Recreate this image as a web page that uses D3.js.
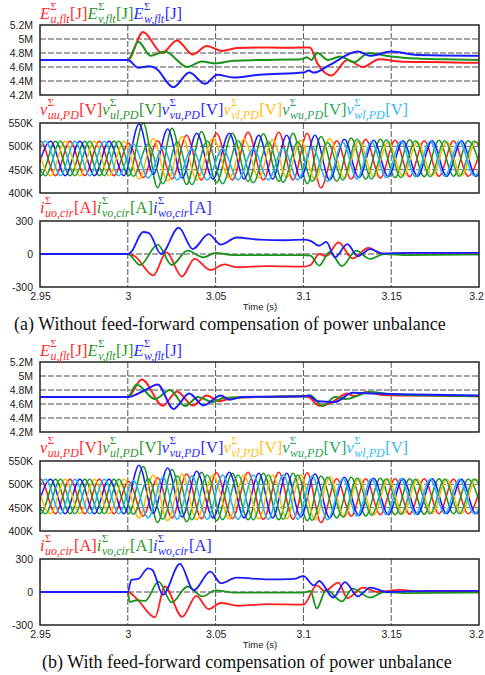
<!DOCTYPE html>
<html>
<head>
<meta charset="utf-8">
<script src="https://cdn.jsdelivr.net/npm/d3@7"></script>
<style>
    body { margin: 0; background: #fff; }
    svg { display: block; }
    .axis text { font-family: "Liberation Sans", Arial, sans-serif; font-size: 10.5px; fill: #222; }
    .caption { font-family: "Liberation Serif", "Times New Roman", serif; font-size: 18px; fill: #111; }
    .xlabel { font-family: "Liberation Sans", Arial, sans-serif; font-size: 9.5px; fill: #222; }
</style>
</head>
<body>
<div id="chart"></div>
<script>

// ---------- data ----------

// x axis
const xTicks = [2.95, 3, 3.05, 3.1, 3.15, 3.2];
const xTickLabels = ["2.95", "3", "3.05", "3.1", "3.15", "3.2"];

// y ticks
const eTicks = [4.2, 4.4, 4.6, 4.8, 5.0, 5.2];
const eTickLabels = ["4.2M", "4.4M", "4.6M", "4.8M", "5M", "5.2M"];
const vTicks = [400, 450, 500, 550];
const vTickLabels = ["400K", "450K", "500K", "550K"];
const iTicks = [-300, 0, 300];
const iTickLabels = ["-300", "0", "300"];

// arm energies [t (s), E (MJ)] - (a) without compensation
const eU_a = [[2.95,4.70],[3.000,4.70],[3.0087,5.10],[3.0195,4.80],[3.028,4.98],[3.037,4.78],[3.045,4.90],[3.0535,4.83],[3.062,4.87],[3.075,4.88],[3.09,4.875],[3.1037,4.88],[3.108,4.65],[3.116,4.48],[3.125,4.70],[3.134,4.60],[3.143,4.71],[3.155,4.68],[3.17,4.67],[3.185,4.665],[3.2,4.66]];
const eV_a = [[2.95,4.70],[3.000,4.70],[3.006,4.96],[3.013,4.76],[3.021,4.82],[3.034,4.60],[3.042,4.68],[3.050,4.65],[3.06,4.69],[3.075,4.70],[3.099,4.71],[3.102,4.74],[3.1045,4.70],[3.108,4.80],[3.114,4.70],[3.121,4.75],[3.129,4.67],[3.137,4.80],[3.15,4.75],[3.165,4.72],[3.18,4.71],[3.2,4.70]];
const eW_a = [[2.95,4.70],[3.000,4.70],[3.006,4.59],[3.012,4.61],[3.016,4.58],[3.026,4.31],[3.035,4.52],[3.044,4.36],[3.051,4.49],[3.060,4.45],[3.075,4.49],[3.1,4.52],[3.103,4.55],[3.106,4.52],[3.115,4.63],[3.131,4.82],[3.138,4.76],[3.150,4.82],[3.165,4.77],[3.2,4.76]];

// arm energies - (b) with compensation
const eU_b = [[2.95,4.70],[3.0,4.70],[3.008,4.95],[3.020,4.575],[3.028,4.78],[3.037,4.58],[3.045,4.72],[3.052,4.64],[3.060,4.69],[3.075,4.70],[3.1,4.71],[3.103,4.70],[3.109,4.575],[3.116,4.62],[3.125,4.75],[3.129,4.71],[3.136,4.77],[3.145,4.73],[3.17,4.72],[3.2,4.71]];
const eV_b = [[2.95,4.70],[3.0,4.70],[3.005,4.88],[3.0155,4.67],[3.024,4.80],[3.0326,4.57],[3.040,4.70],[3.048,4.63],[3.055,4.69],[3.07,4.70],[3.1,4.71],[3.104,4.72],[3.111,4.57],[3.118,4.70],[3.124,4.67],[3.138,4.77],[3.15,4.74],[3.175,4.72],[3.2,4.71]];
const eW_b = [[2.95,4.70],[3.0,4.70],[3.010,4.80],[3.017,4.88],[3.026,4.53],[3.035,4.75],[3.043,4.58],[3.053,4.72],[3.058,4.66],[3.065,4.70],[3.1,4.71],[3.103,4.72],[3.108,4.64],[3.118,4.63],[3.128,4.76],[3.14,4.75],[3.155,4.74],[3.2,4.72]];

// capacitor voltage sums: times of peaks / troughs per phase (s)
const tU = [2.9421,2.9504,2.9588,2.9671,2.9755,2.9838,2.9921,3.0005,3.0088,3.0170,3.0252,3.0335,3.0420,3.0505,3.0595,3.0685,3.0772,3.0860,3.0941,3.1022,3.1100,3.1190,3.1272,3.1355,3.1438,3.1522,3.1605,3.1688,3.1772,3.1855,3.1938,3.2021];
const tV = [2.9477,2.9560,2.9643,2.9727,2.9810,2.9893,2.9978,3.0064,3.0145,3.0227,3.0310,3.0392,3.0485,3.0578,3.0662,3.0746,3.0825,3.0905,3.0985,3.1066,3.1150,3.1233,3.1316,3.1400,3.1483,3.1567,3.1650,3.1733,3.1816,3.1900,3.1983,3.2066];
const tW = [2.9449,2.9532,2.9616,2.9699,2.9783,2.9866,2.9949,3.0032,3.0116,3.0200,3.0282,3.0365,3.0452,3.0540,3.0628,3.0715,3.0800,3.0885,3.0968,3.1050,3.1138,3.1225,3.1305,3.1388,3.1472,3.1555,3.1638,3.1722,3.1805,3.1888,3.1972,3.2055];

// peak / trough values (kV) - (a)
const vUU_a = [437,511,437,511,437,511,437,506,433,512,430,524,428,528,428,530,428,530,428,528,411,512,430,515,432,513,435,512,436,512,436,511];
const vUL_a = [511,437,511,437,511,437,511,437,550,411,539,418,532,422,528,425,527,425,528,420,521,425,518,430,515,433,514,435,513,436,512,436];
const vVU_a = [437,511,437,511,437,511,437,548,440,537,432,528,430,528,430,524,430,524,432,524,428,515,433,513,435,512,436,512,436,512,436,511];
const vVL_a = [511,437,511,437,511,437,511,430,517,425,521,428,517,432,515,432,514,433,513,428,517,432,512,435,510,436,510,437,510,437,510,437];
const vWU_a = [511,437,511,437,511,437,511,436,505,420,510,418,512,420,512,422,510,423,510,425,508,428,515,430,514,433,512,435,512,436,511,437];
const vWL_a = [437,511,437,511,437,511,437,505,432,498,428,495,428,495,428,495,428,496,428,498,425,508,430,510,433,511,435,511,436,511,437,511];

// peak / trough values (kV) - (b)
const vUU_b = [437,511,437,511,437,511,437,506,432,514,428,522,426,525,426,526,425,526,425,525,418,512,432,512,435,512,436,512,437,511,437,511];
const vUL_b = [511,437,511,437,511,437,511,437,538,418,532,420,526,422,524,424,524,424,524,422,518,428,515,432,513,435,512,436,512,437,511,437];
const vVU_b = [437,511,437,511,437,511,437,541,438,535,430,528,428,526,428,524,428,524,430,522,428,515,433,513,435,512,436,512,437,511,437,511];
const vVL_b = [511,437,511,437,511,437,511,428,520,422,522,424,520,426,520,426,520,426,520,424,516,430,513,434,512,436,511,437,511,437,511,437];
const vWU_b = [511,437,511,437,511,437,511,436,512,425,518,424,520,424,520,424,520,425,520,423,515,430,513,434,512,436,511,437,511,437,511,437];
const vWL_b = [437,511,437,511,437,511,437,508,428,515,425,518,425,520,425,520,425,520,425,518,424,512,432,512,435,512,436,511,437,511,437,511];

// circulating currents [t (s), i (A)] - (a)
const iU_a = [[2.95,0],[3.0,0],[3.004,-20],[3.0145,-195],[3.022,15],[3.0308,-205],[3.038,-45],[3.047,-145],[3.055,-95],[3.062,-120],[3.08,-110],[3.1,-115],[3.104,-100],[3.109,0],[3.113,-20],[3.12,105],[3.128,-40],[3.137,55],[3.145,0],[3.16,10],[3.2,10]];
const iV_a = [[2.95,0],[3.0,0],[3.007,-100],[3.017,85],[3.025,-100],[3.034,30],[3.043,-30],[3.05,10],[3.06,-10],[3.1,-10],[3.104,-15],[3.109,-105],[3.115,20],[3.122,-110],[3.13,30],[3.138,-45],[3.146,0],[3.16,-10],[3.2,-5]];
const iW_a = [[2.95,0],[3.0,0],[3.002,20],[3.0087,200],[3.012,190],[3.019,0],[3.029,240],[3.037,45],[3.046,180],[3.053,85],[3.062,150],[3.075,130],[3.09,125],[3.1,130],[3.104,120],[3.109,75],[3.113,110],[3.118,-30],[3.125,90],[3.131,-20],[3.138,45],[3.145,5],[3.16,10],[3.2,10]];

// circulating currents - (b)
const iU_b = [[2.95,0],[3.0,0],[3.005,-60],[3.0155,-230],[3.021,50],[3.031,-225],[3.039,-35],[3.046,-155],[3.053,-100],[3.063,-125],[3.08,-110],[3.1,-115],[3.1076,60],[3.112,10],[3.12,85],[3.125,-55],[3.134,40],[3.142,0],[3.155,20],[3.165,5],[3.2,5]];
const iV_b = [[2.95,0],[3.0,0],[3.001,-90],[3.005,-75],[3.01,-80],[3.0175,95],[3.025,-95],[3.034,50],[3.0425,-40],[3.05,15],[3.06,-5],[3.1,-5],[3.104,10],[3.1076,-150],[3.113,20],[3.122,-85],[3.128,30],[3.138,-50],[3.146,0],[3.16,-10],[3.2,-5]];
const iW_b = [[2.95,0],[3.0,0],[3.002,110],[3.006,120],[3.0115,215],[3.014,200],[3.020,-25],[3.0297,255],[3.0375,15],[3.047,185],[3.053,80],[3.062,130],[3.08,115],[3.095,120],[3.1,145],[3.106,60],[3.109,100],[3.117,-50],[3.1237,90],[3.131,-40],[3.138,40],[3.148,0],[3.17,10],[3.2,10]];

// ---------- drawing ----------

const W = 485, H = 675;
const left = 40, right = 479;

const svg = d3.select("#chart").append("svg")
    .attr("width", W)
    .attr("height", H);

const defs = svg.append("defs");

const x = d3.scaleLinear()
    .domain([2.95, 3.2])
    .range([left, right]);

const col = {
    red: "#ff1e1e", green: "#1c941c", blue: "#1c1cff",
    gold: "#ffb800", green2: "#22a24a", cyan: "#22b4f0"
};

let clipN = 0;

function panel(p) {
    let y = d3.scaleLinear()
        .domain(p.domain)
        .range([p.top + p.h, p.top]);

    let id = "clip" + (clipN++);
    defs.append("clipPath").attr("id", id)
        .append("rect")
        .attr("x", left).attr("y", p.top)
        .attr("width", right - left).attr("height", p.h);

    let g = svg.append("g");

    // grid
    g.selectAll(".hgrid")
        .data(p.ticks.slice(1, -1))
        .enter().append("line")
        .attr("x1", left).attr("x2", right)
        .attr("y1", d => y(d)).attr("y2", d => y(d))
        .attr("stroke", "#888").attr("stroke-width", 1.3)
        .attr("stroke-dasharray", "6,2");

    g.selectAll(".vgrid")
        .data(xTicks.slice(1, -1))
        .enter().append("line")
        .attr("x1", d => x(d)).attr("x2", d => x(d))
        .attr("y1", p.top).attr("y2", p.top + p.h)
        .attr("stroke", "#555").attr("stroke-width", 1)
        .attr("stroke-dasharray", "6,2");

    // traces
    let line = d3.line()
        .x(d => x(d[0]))
        .y(d => y(d[1]))
        .curve(d3.curveMonotoneX);

    let lg = g.append("g").attr("clip-path", "url(#" + id + ")");
    p.series.forEach(s => {
        lg.append("path")
            .attr("d", line(s.data))
            .attr("fill", "none")
            .attr("stroke", s.color)
            .attr("stroke-width", p.lw)
            .attr("stroke-linejoin", "round");
    });

    // frame
    g.append("rect")
        .attr("x", left).attr("y", p.top)
        .attr("width", right - left).attr("height", p.h)
        .attr("fill", "none")
        .attr("stroke", "#222").attr("stroke-width", 1.5);

    // y axis
    let yAxis = d3.axisLeft(y)
        .tickValues(p.ticks)
        .tickFormat((d, i) => p.labels[i])
        .tickSize(0)
        .tickPadding(7);

    svg.append("g")
        .attr("class", "axis")
        .attr("transform", "translate(" + left + ",0)")
        .call(yAxis)
        .call(a => a.select(".domain").remove());

    // x axis (bottom panels only)
    if (p.xAxis) {
        let xAxis = d3.axisBottom(x)
            .tickValues(xTicks)
            .tickFormat((d, i) => xTickLabels[i])
            .tickSize(0)
            .tickPadding(6);

        let xa = svg.append("g")
            .attr("class", "axis")
            .attr("transform", "translate(0," + (p.top + p.h) + ")")
            .call(xAxis)
            .call(a => a.select(".domain").remove());

        // last label sits at the page edge; keep it inside
        xa.selectAll(".tick text")
            .filter((d, i) => i === xTicks.length - 1)
            .attr("dx", "-3");

        svg.append("text")
            .attr("class", "xlabel")
            .attr("x", 260)
            .attr("y", p.top + p.h + 23)
            .attr("text-anchor", "middle")
            .text("Time (s)");
    }
}

// rich legend: symbol with stacked superscript / subscript and unit
function legend(items, yb) {
    let cx = left;
    items.forEach(it => {
        let g = svg.append("g")
            .attr("fill", it.color)
            .style("font-family", "'Liberation Serif','Times New Roman',serif");

        let b = g.append("text")
            .attr("x", cx).attr("y", yb)
            .style("font-size", "16.5px").style("font-style", "italic")
            .text(it.sym);
        let bw = b.node().getComputedTextLength();

        let sp = g.append("text")
            .attr("x", cx + bw + 0.5).attr("y", yb - 9.5)
            .style("font-size", "10.5px")
            .text("Σ");
        let sb = g.append("text")
            .attr("x", cx + bw + 0.5).attr("y", yb + 3.5)
            .style("font-size", "12px").style("font-style", "italic")
            .text(it.sub);

        cx += bw + Math.max(sp.node().getComputedTextLength(), sb.node().getComputedTextLength()) + 1;

        let u = g.append("text")
            .attr("x", cx).attr("y", yb)
            .style("font-size", "16.5px")
            .text(it.unit);
        cx += u.node().getComputedTextLength();
    });
}

const eLegend = [
    {sym: "E", sub: "u,flt", unit: "[J]", color: "#ff2a2a"},
    {sym: "E", sub: "v,flt", unit: "[J]", color: "#2a962a"},
    {sym: "E", sub: "w,flt", unit: "[J]", color: "#2a2aff"}
];
const vLegend = [
    {sym: "v", sub: "uu,PD", unit: "[V]", color: "#ff2a2a"},
    {sym: "v", sub: "ul,PD", unit: "[V]", color: "#2a962a"},
    {sym: "v", sub: "vu,PD", unit: "[V]", color: "#2a2aff"},
    {sym: "v", sub: "vl,PD", unit: "[V]", color: "#ffbe10"},
    {sym: "v", sub: "wu,PD", unit: "[V]", color: "#2aa65a"},
    {sym: "v", sub: "wl,PD", unit: "[V]", color: "#33bbee"}
];
const iLegend = [
    {sym: "i", sub: "uo,cir", unit: "[A]", color: "#ff2a2a"},
    {sym: "i", sub: "vo,cir", unit: "[A]", color: "#2a962a"},
    {sym: "i", sub: "wo,cir", unit: "[A]", color: "#2a2aff"}
];

function figure(f) {
    panel({
        top: f.eTop, h: 70, domain: [4.2, 5.2],
        ticks: eTicks, labels: eTickLabels, lw: 2,
        series: [
            {data: f.eU, color: col.red},
            {data: f.eV, color: col.green},
            {data: f.eW, color: col.blue}
        ]
    });
    legend(eLegend, f.eTop - 6);

    panel({
        top: f.vTop, h: 70, domain: [400, 550],
        ticks: vTicks, labels: vTickLabels, lw: 1.5,
        series: [
            {data: d3.zip(tU, f.vUU), color: col.red},
            {data: d3.zip(tU, f.vUL), color: col.green},
            {data: d3.zip(tV, f.vVU), color: col.blue},
            {data: d3.zip(tV, f.vVL), color: col.gold},
            {data: d3.zip(tW, f.vWU), color: col.green2},
            {data: d3.zip(tW, f.vWL), color: col.cyan}
        ]
    });
    legend(vLegend, f.vTop - 8);

    panel({
        top: f.iTop, h: 66, domain: [-300, 300],
        ticks: iTicks, labels: iTickLabels, lw: 1.8, xAxis: true,
        series: [
            {data: f.iU, color: col.red},
            {data: f.iV, color: col.green},
            {data: f.iW, color: col.blue}
        ]
    });
    legend(iLegend, f.iTop - 8);

    svg.append("text")
        .attr("class", "caption")
        .attr("x", f.capX)
        .attr("y", f.capY)
        .text(f.caption);
}

figure({
    eTop: 25, vTop: 123, iTop: 221,
    eU: eU_a, eV: eV_a, eW: eW_a,
    vUU: vUU_a, vUL: vUL_a, vVU: vVU_a, vVL: vVL_a, vWU: vWU_a, vWL: vWL_a,
    iU: iU_a, iV: iV_a, iW: iW_a,
    caption: "(a) Without feed-forward compensation of power unbalance",
    capX: 14, capY: 330
});

figure({
    eTop: 362, vTop: 461, iTop: 559,
    eU: eU_b, eV: eV_b, eW: eW_b,
    vUU: vUU_b, vUL: vUL_b, vVU: vVU_b, vVL: vVL_b, vWU: vWU_b, vWL: vWL_b,
    iU: iU_b, iV: iV_b, iW: iW_b,
    caption: "(b) With feed-forward compensation of power unbalance",
    capX: 42, capY: 668
});

</script>
</body>
</html>
